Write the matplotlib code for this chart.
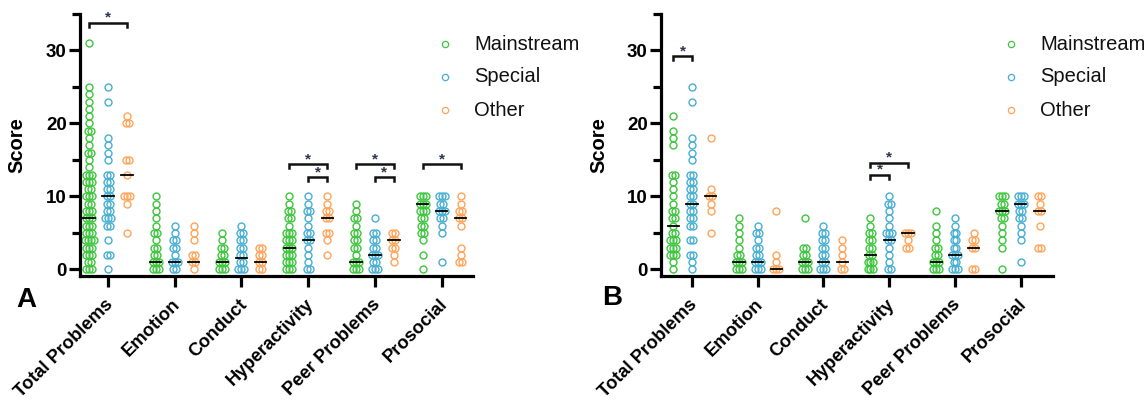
import matplotlib
matplotlib.use("Agg")
import matplotlib.pyplot as plt
from matplotlib.lines import Line2D
from matplotlib.ticker import MultipleLocator
from matplotlib.transforms import ScaledTranslation
from collections import Counter

categories = ["Total Problems", "Emotion", "Conduct", "Hyperactivity", "Peer Problems", "Prosocial"]
groups = ["Mainstream", "Special", "Other"]
colors = ["#3dc63d", "#47afd3", "#ffa459"]

# panel A: scores per category (Total, Emotion, Conduct, Hyperactivity, Peer, Prosocial)
a_main = [
    [31, 25, 24, 23, 22, 21, 20, 19, 19, 18, 17, 16, 16, 15, 14, 13, 13, 13, 12, 12, 12, 11, 11,
     10, 10, 10, 9, 9, 8, 8, 8, 7, 7, 7, 6, 6, 6, 5, 5, 5, 4, 4, 4, 4, 3, 3, 3, 2, 2, 2, 1, 1, 0, 0, 0],
    [10, 9, 8, 7, 6, 5, 5, 4, 3, 3, 2, 2, 1, 1, 1, 0, 0, 0],
    [5, 4, 3, 3, 2, 2, 1, 1, 1, 0, 0, 0],
    [10, 9, 8, 8, 7, 7, 6, 5, 5, 5, 4, 4, 4, 3, 3, 3, 2, 2, 2, 1, 1, 1, 0, 0, 0],
    [9, 8, 7, 7, 6, 5, 5, 4, 4, 3, 3, 2, 1, 1, 1, 0, 0, 0],
    [10, 10, 10, 9, 9, 9, 8, 8, 8, 7, 7, 6, 6, 5, 5, 4, 2, 0],
]
a_special = [
    [25, 23, 18, 17, 16, 15, 13, 13, 12, 12, 11, 11, 10, 10, 9, 9, 8, 8, 7, 7, 7, 6, 6, 4, 2, 2, 0],
    [6, 5, 4, 4, 3, 3, 2, 1, 1, 1, 0, 0],
    [6, 5, 5, 4, 4, 3, 3, 2, 2, 1, 1, 0, 0, 0],
    [10, 9, 8, 8, 7, 6, 5, 5, 4, 4, 3, 2, 1, 0, 0],
    [7, 5, 5, 4, 4, 3, 3, 2, 2, 2, 1, 1, 0, 0, 0],
    [10, 10, 10, 9, 9, 8, 8, 8, 7, 7, 6, 5, 1],
]
a_other = [
    [21, 20, 20, 15, 15, 13, 10, 10, 10, 9, 5],
    [6, 5, 4, 2, 2, 1, 1, 0],
    [3, 3, 2, 2, 1, 1, 0, 0],
    [10, 9, 8, 8, 7, 7, 5, 5, 4, 2],
    [5, 5, 4, 4, 3, 3, 2, 1],
    [10, 9, 8, 8, 7, 7, 6, 3, 2, 1, 1],
]
a_medians = [[7, 1, 1, 3, 1, 9], [10, 1, 1.5, 4, 2, 8], [13, 1, 1, 7, 4, 7]]

# panel B
b_main = [
    [21, 19, 18, 17, 13, 13, 12, 11, 10, 9, 8, 8, 7, 7, 6, 5, 5, 4, 4, 4, 3, 3, 3, 2, 2, 2, 1, 0],
    [7, 6, 5, 4, 3, 2, 2, 1, 1, 1, 0, 0, 0],
    [7, 3, 3, 2, 2, 1, 1, 1, 0, 0, 0],
    [7, 6, 5, 5, 4, 4, 3, 3, 2, 2, 1, 1, 1, 0, 0, 0],
    [8, 6, 5, 4, 3, 3, 2, 2, 1, 1, 1, 0, 0, 0],
    [10, 10, 10, 9, 9, 8, 8, 8, 7, 7, 6, 5, 4, 3, 0],
]
b_special = [
    [25, 23, 18, 17, 16, 15, 13, 13, 12, 12, 11, 11, 10, 10, 9, 9, 8, 8, 7, 7, 6, 6, 4, 4, 2, 2, 1, 0],
    [6, 5, 5, 4, 3, 3, 2, 2, 1, 1, 1, 0, 0, 0],
    [6, 5, 5, 4, 4, 3, 3, 2, 2, 1, 1, 0, 0, 0],
    [10, 9, 9, 8, 7, 6, 5, 5, 5, 4, 4, 3, 2, 1, 0, 0],
    [7, 6, 5, 5, 4, 4, 3, 3, 2, 2, 2, 1, 1, 0, 0, 0],
    [10, 10, 10, 9, 9, 9, 8, 8, 7, 7, 6, 5, 4, 1],
]
b_other = [
    [18, 11, 10, 10, 9, 8, 5],
    [8, 2, 1, 0, 0, 0],
    [4, 3, 2, 1, 0, 0],
    [5, 5, 5, 4, 3, 3],
    [5, 4, 4, 3, 3, 0, 0],
    [10, 10, 9, 8, 8, 6, 3, 3],
]
b_medians = [[6, 1, 1, 2, 1, 8], [9, 1, 1, 4, 2, 9], [10, 0, 1, 5, 3, 8]]

# significance brackets: (category, from group, to group, height)
a_sig = [(0, 0, 2, 33.8), (3, 0, 2, 14.4), (3, 1, 2, 12.6),
         (4, 0, 2, 14.4), (4, 1, 2, 12.6), (5, 0, 2, 14.4)]
b_sig = [(0, 0, 1, 29.2), (3, 0, 2, 14.6), (3, 0, 1, 13.0)]

plt.rcParams['font.family'] = ['Liberation Sans', 'DejaVu Sans']

fig = plt.figure(figsize=(11.46, 4.0), dpi=100)
ax_a = fig.add_axes([80 / 1146, 1 - 276 / 400, 393 / 1146, 262 / 400])
ax_b = fig.add_axes([661 / 1146, 1 - 276 / 400, 392 / 1146, 262 / 400])

offsets = [-0.285, 0.0, 0.285]


def draw_panel(ax, data, medians, sig, xlim):
    for g, cols in enumerate(data):
        for c, vals in enumerate(cols):
            xs, ys = [], []
            for v, n in sorted(Counter(vals).items()):
                for i in range(n):
                    xs.append(c + offsets[g] + (i - (n - 1) / 2) * 0.045)
                    ys.append(v)
            ax.plot(xs, ys, 'o', ms=5, mfc='none', mec=colors[g], mew=1.0,
                    clip_on=False, zorder=2)
            m = medians[g][c]
            xc = c + offsets[g]
            ax.plot([xc - 0.085, xc + 0.085], [m, m], color='black', lw=1.3, zorder=3)

    for c, g1, g2, h in sig:
        x1 = c + offsets[g1]
        x2 = c + offsets[g2]
        ax.plot([x1, x1, x2, x2], [h - 0.55, h, h, h - 0.55], color='#111111',
                lw=1.8, clip_on=False, solid_joinstyle='miter')
        ax.text((x1 + x2) / 2, h + 0.15, '*', ha='center', va='baseline',
                fontsize=11, fontweight='bold', color='#2a3550')

    ax.set_xlim(*xlim)
    ax.set_ylim(-0.9, 35)
    for side in ['top', 'right']:
        ax.spines[side].set_visible(False)
    for side in ['left', 'bottom']:
        ax.spines[side].set_linewidth(2.3)
    ax.set_yticks([0, 10, 20, 30])
    ax.yaxis.set_minor_locator(MultipleLocator(5))
    ax.tick_params(axis='y', which='major', width=2.3, length=8, labelsize=13.5, pad=1.5)
    ax.tick_params(axis='x', which='major', width=2.3, length=8, pad=10.5)
    ax.tick_params(axis='y', which='minor', width=2.3, length=5.5)
    ax.tick_params(axis='x', which='minor', bottom=False)
    for lab in ax.get_yticklabels():
        lab.set_fontweight('bold')
    ax.set_xticks(range(len(categories)))
    ax.set_xticklabels(categories, rotation=45, ha='right', va='center',
                       rotation_mode='anchor', fontsize=13.2, fontweight='bold')
    shift = ScaledTranslation(2 / 72, 0, fig.dpi_scale_trans)
    for lab in ax.get_xticklabels():
        lab.set_transform(lab.get_transform() + shift)
    ax.set_ylabel('Score', fontsize=14.5, fontweight='bold')


draw_panel(ax_a, [a_main, a_special, a_other], a_medians, a_sig, (-0.42, 5.47))
draw_panel(ax_b, [b_main, b_special, b_other], b_medians, b_sig, (-0.47, 5.49))
ax_a.yaxis.set_label_coords(-0.137, 0.5)
ax_b.yaxis.set_label_coords(-0.133, 0.5)

# legends
for x_mark, x_text in [(445, 474), (1011, 1040)]:
    for g, y in zip(range(3), [44, 77, 110]):
        fig.add_artist(Line2D([x_mark / 1146], [1 - y / 400], marker='o', ms=4.5,
                              mfc='none', mec=colors[g], mew=0.9,
                              transform=fig.transFigure))
        fig.text(x_text / 1146, 1 - y / 400, groups[g], fontsize=14.5,
                 ha='left', va='center', color='#111111')

fig.text(26 / 1146, 1 - 300 / 400, 'A', fontsize=20, fontweight='bold',
         ha='center', va='center')
fig.text(612 / 1146, 1 - 298 / 400, 'B', fontsize=20, fontweight='bold',
         ha='center', va='center')

fig.savefig('out.png', dpi=100)
